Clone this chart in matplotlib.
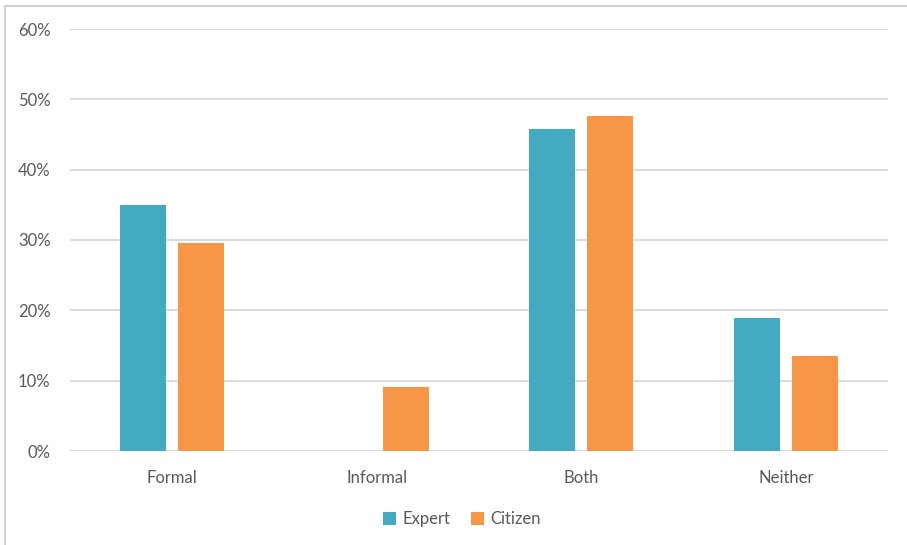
import matplotlib
matplotlib.use("Agg")
import matplotlib.pyplot as plt
from matplotlib.lines import Line2D
from matplotlib.ticker import FuncFormatter
import numpy as np

categories = ["Formal", "Informal", "Both", "Neither"]
expert = [35.0, 0.0, 45.8, 18.9]
citizen = [29.6, 9.1, 47.6, 13.5]
y_ticks = [0, 10, 20, 30, 40, 50, 60]

teal = "#43AAC2"
orange = "#F79646"
grid_gray = "#D9D9D9"
text_gray = "#595959"

plt.rcParams["font.family"] = ["Lato", "DejaVu Sans"]

fig = plt.figure(figsize=(9.07, 5.45), dpi=100)
ax = fig.add_axes([70 / 907, 1 - 451 / 545, 818 / 907, 422 / 545])

x = np.arange(len(categories))
w = 0.225
off = 0.143
ax.bar(x - off, expert, width=w, color=teal, label="Expert", zorder=3)
ax.bar(x + off, citizen, width=w, color=orange, label="Citizen", zorder=3)

ax.set_xlim(-0.5, len(categories) - 0.5)
ax.set_ylim(0, 60)
ax.set_yticks(y_ticks)
ax.yaxis.set_major_formatter(FuncFormatter(lambda v, p: f"{v:.0f}%"))
ax.set_xticks(x)
ax.set_xticklabels(categories)
ax.grid(axis="y", color=grid_gray, linewidth=1.3, zorder=0)
ax.tick_params(axis="both", length=0, labelsize=12, colors=text_gray)
ax.tick_params(axis="y", pad=14)
ax.tick_params(axis="x", pad=14)
for s in ax.spines.values():
    s.set_visible(False)

leg = fig.legend(loc="center", bbox_to_anchor=(462 / 907, 1 - 519 / 545),
                 ncol=2, frameon=False, fontsize=12, handlelength=0.8,
                 handleheight=0.8, handletextpad=0.4, columnspacing=1.2)
for t in leg.get_texts():
    t.set_color(text_gray)

# thin frame along the left and top edges
fig.add_artist(Line2D([4.5 / 907, 4.5 / 907], [0, 1 - 5.5 / 545],
                      color="#D0D0D0", linewidth=1.5, transform=fig.transFigure))
fig.add_artist(Line2D([4.5 / 907, 1], [1 - 5.5 / 545, 1 - 5.5 / 545],
                      color="#D0D0D0", linewidth=1.5, transform=fig.transFigure))

fig.savefig("out.png", dpi=100, facecolor="white")
